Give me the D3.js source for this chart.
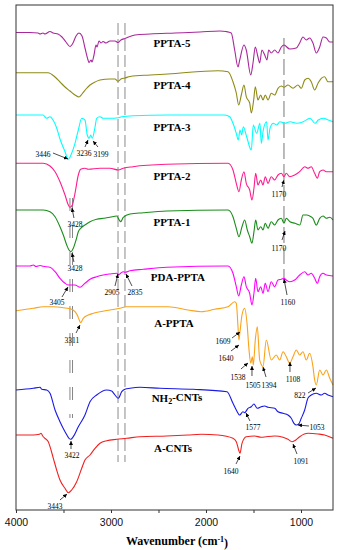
<!DOCTYPE html>
<html>
<head>
<meta charset="utf-8">
<script src="https://cdn.jsdelivr.net/npm/d3@7"></script>
<style>
  body { margin: 0; background: #fff; }
  svg { display: block; }
</style>
</head>
<body>
<svg id="chart"></svg>
<script>
// FTIR spectra, stacked with vertical offsets (a.u.)
// each point: [wavenumber, deviation from the spectrum's own baseline]
const ppta5 = [[4000,0],[3853,0],[3768,-0.5],[3747,-1.5],[3716,-0.5],[3695,-1.5],[3642,1],[3610,-0.5],[3558,-1.5],[3516,-4.5],[3474,-9.5],[3432,-14],[3400,-10.5],[3368,-3.5],[3337,-0.5],[3305,-3.5],[3274,-15.5],[3242,-27.5],[3232,-30],[3210,-27.5],[3200,-29.5],[3179,-22.5],[3158,-12.5],[3147,-14.5],[3126,-8.5],[3105,-10.5],[3084,-9],[3053,-10.5],[3011,-8.5],[2958,-8.5],[2926,-10],[2895,-7.5],[2853,-6],[2747,-2.5],[2589,-1.5],[2326,-0.5],[2063,0.5],[1853,1.5],[1790,1],[1734,-0.5],[1698,-17.5],[1663,-34.5],[1645,-27.5],[1600,-12.5],[1576,-17.5],[1529,-42.5],[1505,-30.5],[1481,-14.5],[1453,-24.5],[1435,-30.5],[1411,-17.5],[1382,-22.5],[1358,-27.5],[1340,-17.5],[1313,-20.5],[1277,-17.5],[1242,-20.5],[1207,-14.5],[1179,-12.5],[1119,-16.5],[1050,-15.5],[1014,-10.5],[979,-4.5],[944,-7.5],[909,-5.5],[874,-10.5],[839,-20.5],[803,-14.5],[768,-4.5],[733,-5.5],[697,-9.5],[663,-9.5]];
const ppta4 = [[4000,0],[3663,0],[3589,-4.3],[3537,-9.3],[3484,-14.3],[3432,-18.3],[3379,-22.3],[3337,-24.3],[3305,-21.3],[3263,-16.3],[3221,-12.3],[3168,-9.3],[3116,-7.3],[3011,-6.3],[2958,-6.3],[2926,-8.5],[2895,-6.3],[2853,-5.3],[2800,-3.8],[2589,-2.3],[2400,-1.3],[1874,2],[1768,1],[1716,-9],[1681,-20.3],[1656,-32.3],[1628,-22.3],[1600,-12.3],[1576,-24],[1540,-30.3],[1523,-40.3],[1498,-27.3],[1481,-14],[1453,-27.3],[1424,-22.3],[1400,-27.3],[1376,-22.3],[1347,-27.3],[1313,-20.6],[1277,-22.3],[1242,-15.6],[1207,-13.3],[1179,-14.6],[1137,-12.3],[1084,-15.6],[1032,-12.3],[997,-15.6],[961,-7.3],[926,-5.6],[892,-9],[856,-17.3],[821,-10.6],[786,-5.6],[751,-4],[716,-9],[663,-9]];
const ppta3 = [[4000,0],[3716,0],[3677,-3.3],[3642,-1.7],[3610,-5],[3572,-13],[3537,-24],[3484,-36.7],[3450,-44.3],[3414,-38.3],[3379,-28.3],[3344,-15],[3308,-3.3],[3274,-5],[3250,-20],[3229,-23.3],[3214,-20],[3197,-23.3],[3168,-12],[3151,-3.3],[3116,-1.7],[3084,-3.3],[3011,-3.3],[2923,-2.7],[2887,-1.7],[2768,-0.7],[2400,0],[1803,0],[1750,-1.7],[1716,-8.3],[1681,-18.3],[1660,-25],[1642,-15],[1625,-20],[1607,-11.7],[1572,-21.7],[1523,-35],[1502,-10],[1467,-18.3],[1432,-8.3],[1418,-28.3],[1397,-15],[1362,-6.7],[1347,-25],[1326,-13.3],[1291,-8.3],[1256,-10],[1221,-6.7],[1168,-8.3],[1116,-6.7],[1045,-8.3],[976,-6.7],[905,-3.3],[853,-8.3],[818,-5],[765,-3.3],[713,-5],[663,-6.7]];
const ppta2 = [[4000,0],[3713,0],[3642,-2.7],[3589,-8.4],[3537,-18.4],[3484,-31.7],[3449,-41.7],[3432,-44],[3407,-41.7],[3379,-30],[3344,-11.7],[3319,-6],[3274,-5],[3239,-6],[3116,-5],[3011,-5],[2923,-6.7],[2871,-5],[2768,-3.4],[2414,-1],[1768,0],[1716,-6.7],[1681,-20],[1653,-28.4],[1628,-16.7],[1600,-8.4],[1576,-20],[1540,-26.7],[1516,-36.7],[1495,-25],[1477,-10],[1453,-21.7],[1424,-16.7],[1400,-21.7],[1376,-13.4],[1347,-20],[1313,-13.4],[1277,-16.7],[1242,-11.7],[1207,-10],[1179,-13.4],[1155,-10],[1119,-13.4],[1066,-11.7],[1014,-8.4],[961,-3.4],[926,-5],[892,-3.4],[856,-10],[828,-15],[803,-8.4],[768,-6.7],[733,-8.4],[663,-8.4]];
const ppta1 = [[4000,0],[3713,0],[3642,-1.7],[3589,-6.7],[3537,-16.7],[3502,-25],[3466,-35],[3442,-40],[3421,-41.7],[3397,-38.3],[3368,-30],[3344,-21.7],[3319,-18.3],[3274,-15],[3221,-11.7],[3151,-9.3],[3081,-8.3],[3011,-7.3],[2940,-6],[2913,-10],[2898,-11.7],[2871,-7.3],[2800,-4],[2660,-2.7],[2414,-1],[1768,0],[1716,-6.7],[1681,-18.3],[1653,-26.7],[1621,-16.7],[1593,-10],[1565,-20],[1540,-26.7],[1516,-33.3],[1495,-21.7],[1477,-10],[1453,-20],[1424,-16.7],[1400,-20],[1376,-13.3],[1347,-18.3],[1313,-11.7],[1277,-15],[1242,-10],[1207,-8.3],[1179,-13.3],[1155,-8.3],[1116,-11.7],[1063,-13.3],[1011,-15],[979,-5],[937,-5],[895,-6.7],[874,-8.3],[839,-15],[803,-8.3],[768,-6],[733,-8.3],[697,-7.3],[663,-10]];
const pdaPpta = [[4000,0],[3853,0],[3818,1],[3789,-0.5],[3747,0.5],[3713,-0.3],[3642,-1.3],[3589,-5.7],[3537,-12.3],[3484,-17.3],[3449,-19],[3379,-19],[3326,-21.3],[3274,-17.3],[3221,-13.3],[3151,-10.7],[3081,-9],[3011,-8],[2940,-7.3],[2919,-8.7],[2898,-7.3],[2871,-5.7],[2853,-6.3],[2800,-4.7],[2660,-3.3],[2414,-1.3],[1768,0],[1716,-7.3],[1681,-20.7],[1656,-30],[1628,-19],[1600,-10.7],[1576,-20.7],[1540,-27.3],[1516,-39],[1495,-27.3],[1477,-12.3],[1453,-25.7],[1424,-20.7],[1400,-27.3],[1376,-17.3],[1347,-25.7],[1313,-15.7],[1277,-20.7],[1242,-14],[1207,-13.3],[1179,-12.3],[1155,-14],[1119,-15.7],[1066,-14],[1014,-9],[961,-5.7],[926,-9],[892,-7.3],[856,-12.3],[828,-17.3],[803,-10.7],[768,-7.3],[733,-9],[663,-10]];
const aPpta = [[4000,0],[3818,2.4],[3713,4],[3607,4],[3502,3],[3414,1.4],[3379,-1],[3355,-4.3],[3334,-9.3],[3319,-12],[3292,-7.6],[3239,-4.3],[3186,-2.6],[3116,-1],[3011,0.7],[2905,2.4],[2835,4],[2695,4],[2400,4],[2189,0.7],[2049,-1],[1908,1.4],[1768,4],[1698,9],[1681,7.4],[1663,-16],[1653,-29.3],[1642,-21],[1621,-4.3],[1593,2.4],[1568,-12.6],[1547,-39.3],[1529,-52.6],[1512,-46],[1502,-54.3],[1481,-29.3],[1460,-16],[1435,-49.3],[1411,-55],[1400,-56],[1365,-29.3],[1313,-49.3],[1260,-44.3],[1224,-49.3],[1189,-41],[1155,-46],[1119,-52.6],[1084,-46],[1049,-39.3],[1014,-44.3],[979,-41],[944,-49.3],[909,-42.6],[874,-56],[856,-69.3],[839,-74.3],[803,-59.3],[768,-64.3],[733,-59.3],[697,-67.6],[663,-74.3]];
const nh2Cnts = [[4000,0],[3818,1.7],[3747,2.7],[3729,0.7],[3677,0],[3642,-3.3],[3589,-20],[3537,-31.7],[3484,-41.7],[3442,-48.3],[3424,-49.3],[3397,-46.7],[3344,-36.7],[3274,-25],[3221,-11.7],[3151,-5],[3045,0],[2993,-1],[2958,-5],[2923,-8.3],[2887,-1.7],[2853,0.7],[2800,1.7],[2695,2.7],[2484,1.7],[2133,0.7],[1779,-1.7],[1716,-13.3],[1681,-20],[1645,-25],[1611,-21.7],[1593,-22.7],[1558,-18.3],[1523,-16.7],[1495,-14],[1460,-18.3],[1418,-16.7],[1382,-16],[1347,-17.3],[1277,-18.3],[1242,-21.7],[1189,-23.3],[1137,-25],[1102,-28.3],[1074,-33.3],[1049,-35],[1024,-34],[997,-28.3],[961,-20],[926,-8],[892,-5],[839,-3.3],[786,-5],[751,-3.3],[716,-5],[663,-6.7]];
const aCnts = [[4000,0],[3818,0],[3755,0.7],[3737,1.7],[3719,-1],[3695,-3.3],[3660,-6.7],[3642,-11.7],[3607,-23.3],[3572,-35],[3537,-45],[3484,-53.3],[3449,-57.7],[3414,-55],[3361,-46.7],[3308,-33.3],[3274,-25],[3221,-20],[3168,-13.3],[3116,-8.3],[3045,-5.7],[2940,-4.3],[2835,-3.3],[2695,-1.7],[2414,-1],[2189,0],[2049,0.7],[1874,0],[1716,-3.3],[1681,-6.7],[1656,-15],[1642,-18.3],[1621,-8.3],[1576,-1.7],[1488,-1],[1418,-2.3],[1365,-1.7],[1277,-1],[1189,-2.3],[1137,-4.3],[1095,-6.7],[1066,-5.7],[1014,-1.7],[926,1.7],[821,1],[751,0],[663,-3.3]];

const spectra = [ppta5, ppta4, ppta3, ppta2, ppta1, pdaPpta, aPpta, nh2Cnts, aCnts];
const names = ["PPTA-5", "PPTA-4", "PPTA-3", "PPTA-2", "PPTA-1", "PDA-PPTA", "A-PPTA", "NH2-CNTs", "A-CNTs"];
const colors = ["#a8289c", "#8f8a17", "#00ffff", "#ff1c8d", "#1a8c1a", "#ff00ff", "#f9a31b", "#1a1ae6", "#f02020"];
const offsets = [477.5, 437.3, 395, 346.7, 300, 244, 199.3, 120, 75];
// label anchor [wavenumber, a.u.]
const nameAt = [[2358,467],[2358,425],[2358,383],[2358,334],[2358,288],[2295,233],[2337,187],[2305,112],[2347,62]];

const majorTicks = [4000, 3000, 2000, 1000];
const minorTicks = [3500, 2500, 1500];

// peak notes: label, text [w, v], arrow start [w, v], arrow end [w, v]
const peakNotes = [
  ["3446", 3716, 356, 3611, 357, 3453, 351],
  ["3236", 3284, 357, 3274, 363, 3242, 370],
  ["3199", 3105, 356, 3137, 363, 3189, 369],
  ["3428", 3379, 286, 3390, 292, 3411, 302],
  ["3428", 3379, 242, 3390, 248, 3411, 257],
  ["3405", 3568, 208, 3516, 213, 3453, 223],
  ["2905", 2989, 218, 2958, 224, 2926, 236],
  ["2835", 2747, 218, 2779, 224, 2842, 236],
  ["3311", 3411, 170, 3368, 177, 3326, 185],
  ["1160", 1137, 208, 1147, 215, 1179, 231],
  ["1170", 1232, 316, 1200, 323, 1179, 330],
  ["1170", 1232, 262, 1200, 270, 1168, 279],
  ["1609", 1821, 169, 1726, 172, 1642, 178],
  ["1640", 1789, 152, 1737, 159, 1653, 165],
  ["1538", 1663, 133, 1632, 141, 1558, 147],
  ["1505", 1505, 125, 1516, 134, 1516, 144],
  ["1394", 1337, 125, 1368, 133, 1400, 143],
  ["1108", 1084, 131, 1116, 138, 1116, 148],
  ["822", 1011, 115, 926, 117, 842, 122],
  ["1577", 1505, 83, 1537, 89, 1579, 97],
  ["1053", 832, 83, 916, 84, 1032, 85],
  ["3422", 3411, 55, 3421, 61, 3421, 69],
  ["1640", 1737, 39, 1684, 46, 1642, 54],
  ["1091", 1000, 49, 1042, 56, 1084, 66],
  ["3443", 3589, 4, 3537, 10, 3463, 16]
];

// reference lines: wavenumber, from v, to v, colour, dash, width
const guideLines = [
  [2926, 48, 487, "#a6a6a6", "12,4", 1.3],
  [2853, 48, 487, "#a6a6a6", "12,4", 1.3],
  [3432, 92, 312, "#666", "13,14", 0.8],
  [3405, 92, 312, "#666", "13,14", 0.8],
  [1179, 230, 472, "#777", "16,5", 1]
];

const W = 338, H = 550;
const svg = d3.select("#chart").attr("width", W).attr("height", H);

const x = d3.scaleLinear().domain([4000, 663]).range([16, 333]);
const y = d3.scaleLinear().domain([0, 505]).range([510, 5]);

const serif = "'Liberation Serif', 'Times New Roman', serif";
const sans = "'Liberation Sans', Arial, sans-serif";

svg.append("defs").append("marker")
    .attr("id", "arrow")
    .attr("viewBox", "0 0 6 6")
    .attr("refX", 6).attr("refY", 3)
    .attr("markerWidth", 4).attr("markerHeight", 4)
    .attr("markerUnits", "userSpaceOnUse")
    .attr("orient", "auto")
  .append("path")
    .attr("d", "M0,0L6,3L0,6Z")
    .attr("fill", "#000");

// guide lines
svg.append("g").selectAll("line")
  .data(guideLines)
  .join("line")
    .attr("x1", d => x(d[0])).attr("x2", d => x(d[0]))
    .attr("y1", d => y(d[2])).attr("y2", d => y(d[1]))
    .attr("stroke", d => d[3])
    .attr("stroke-dasharray", d => d[4])
    .attr("stroke-width", d => d[5]);

// spectra
spectra.forEach((s, i) => {
  const line = d3.line()
    .x(d => x(d[0]))
    .y(d => y(offsets[i] + d[1]))
    .curve(d3.curveMonotoneX);
  svg.append("path")
    .datum(s)
    .attr("d", line)
    .attr("fill", "none")
    .attr("stroke", colors[i])
    .attr("stroke-width", 1.1)
    .attr("stroke-linejoin", "round");
});

// spectrum names
const nameText = svg.append("g").selectAll("text")
  .data(names)
  .join("text")
    .attr("x", (d, i) => x(nameAt[i][0]))
    .attr("y", (d, i) => y(nameAt[i][1]))
    .attr("dy", "0.35em")
    .attr("text-anchor", "middle")
    .style("font-family", serif)
    .style("font-weight", "bold")
    .style("font-size", "11px");
nameText.each(function(d) {
  const t = d3.select(this);
  if (d === "NH2-CNTs") {
    t.append("tspan").text("NH");
    t.append("tspan").attr("dy", "0.3em").style("font-size", "8px").text("2");
    t.append("tspan").attr("dy", "-0.3em").text("-CNTs");
  } else {
    t.text(d);
  }
});

// peak annotations
const notes = svg.append("g");
notes.selectAll("line")
  .data(peakNotes)
  .join("line")
    .attr("x1", d => x(d[3])).attr("y1", d => y(d[4]))
    .attr("x2", d => x(d[5])).attr("y2", d => y(d[6]))
    .attr("stroke", "#000")
    .attr("stroke-width", 0.7)
    .attr("marker-end", "url(#arrow)");
notes.selectAll("text")
  .data(peakNotes)
  .join("text")
    .attr("x", d => x(d[1]))
    .attr("y", d => y(d[2]))
    .attr("dy", "0.35em")
    .attr("text-anchor", "middle")
    .style("font-family", serif)
    .style("font-size", "7.5px")
    .text(d => d[0]);

// frame
svg.append("rect")
  .attr("x", x(4000)).attr("y", y(505))
  .attr("width", x(663) - x(4000)).attr("height", y(0) - y(505))
  .attr("fill", "none")
  .attr("stroke", "#333")
  .attr("stroke-width", 1);

// x axis
const ax = svg.append("g")
  .attr("transform", `translate(0,${y(0)})`)
  .call(d3.axisBottom(x).tickValues(majorTicks).tickSize(3).tickSizeOuter(0).tickFormat(d3.format("d")));
ax.select(".domain").remove();
ax.selectAll("line").attr("stroke", "#333");
ax.selectAll("text")
  .style("font-family", sans)
  .style("font-size", "10.5px")
  .attr("fill", "#111")
  .attr("dy", "0.95em");

const axm = svg.append("g")
  .attr("transform", `translate(0,${y(0)})`)
  .call(d3.axisBottom(x).tickValues(minorTicks).tickSize(3).tickFormat(""));
axm.select(".domain").remove();
axm.selectAll("line").attr("stroke", "#333");

// x title
const title = svg.append("text")
  .attr("x", 177).attr("y", 545)
  .attr("text-anchor", "middle")
  .style("font-family", serif)
  .style("font-weight", "bold")
  .style("font-size", "12px");
title.append("tspan").text("Wavenumber (cm");
title.append("tspan").attr("dy", "-0.4em").style("font-size", "8px").text("-1");
title.append("tspan").attr("dy", "0.4em").text(")");
</script>
</body>
</html>
